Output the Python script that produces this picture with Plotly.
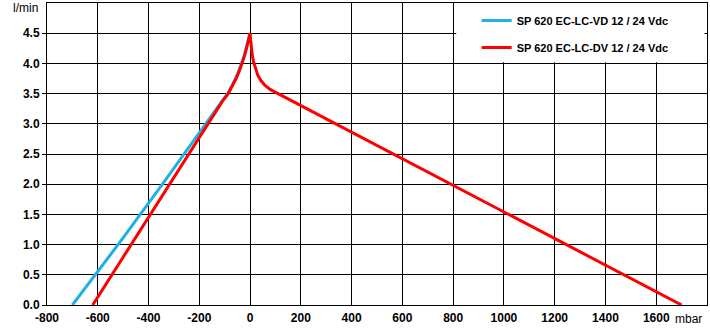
import plotly.graph_objects as go

# Data
vd_name = "SP 620 EC-LC-VD 12 / 24 Vdc"
vd_pressure = [-700, -520, -345, -177, -132, -110, -88, -71, -57, -44, -33, -24, -17, -11, -6, -3, 0]
vd_flow = [0.0, 1.0, 2.0, 3.0, 3.25, 3.38, 3.5, 3.63, 3.75, 3.88, 4.0, 4.12, 4.23, 4.32, 4.4, 4.45, 4.5]

dv_name = "SP 620 EC-LC-DV 12 / 24 Vdc"
dv_pressure = [-620, -468, -316, -166, -129, -108, -86, -69, -55, -42, -31, -22, -15, -9, -4, -2, 0,
               2, 5, 9, 14, 21, 30, 42, 58, 79, 110, 1700]
dv_flow = [0.0, 1.0, 2.0, 3.0, 3.25, 3.38, 3.5, 3.63, 3.75, 3.88, 4.0, 4.12, 4.23, 4.32, 4.4, 4.45, 4.5,
           4.4, 4.27, 4.13, 4.02, 3.91, 3.81, 3.72, 3.64, 3.57, 3.5, 0.0]

x_ticks = [-800, -600, -400, -200, 0, 200, 400, 600, 800, 1000, 1200, 1400, 1600]
y_ticks = [0.0, 0.5, 1.0, 1.5, 2.0, 2.5, 3.0, 3.5, 4.0, 4.5]

FONT = "Liberation Sans, Arial, sans-serif"

fig = go.Figure()
fig.add_trace(go.Scatter(x=vd_pressure, y=vd_flow, mode="lines", name=vd_name,
                         legendgroup="a",
                         line=dict(color="#1FB0E6", width=3)))
fig.add_trace(go.Scatter(x=dv_pressure, y=dv_flow, mode="lines", name=dv_name,
                         legendgroup="b",
                         line=dict(color="#FF0000", width=3)))

fig.update_xaxes(range=[-800, 1800], tickvals=x_ticks,
                 ticktext=[f"<b>{v}</b>" for v in x_ticks],
                 showgrid=True, gridcolor="black", gridwidth=1,
                 showline=True, linecolor="black", linewidth=1, mirror=True,
                 ticks="", zeroline=False, ticklabelstandoff=2,
                 tickfont=dict(family=FONT, size=12, color="black"))
fig.update_yaxes(range=[0, 5], tickvals=y_ticks,
                 ticktext=[f"<b>{v:.1f}</b>" for v in y_ticks],
                 showgrid=True, gridcolor="black", gridwidth=1,
                 showline=True, linecolor="black", linewidth=1, mirror=True,
                 ticks="outside", ticklen=4, tickcolor="black", zeroline=False,
                 tickfont=dict(family=FONT, size=12, color="black"))

# white area behind the legend, hiding the gridlines
fig.add_shape(type="rect", xref="x", yref="y", x0=812, x1=1790, y0=4.02, y1=5.0,
              fillcolor="white", line=dict(width=0), layer="between")

fig.add_annotation(text="mbar", xref="paper", yref="paper", x=0.9727, y=-0.046,
                   showarrow=False, xanchor="center", yanchor="middle",
                   font=dict(family=FONT, size=12, color="black"))
fig.add_annotation(text="l/min", xref="paper", yref="paper", x=-0.0333, y=0.983,
                   showarrow=False, xanchor="center", yanchor="middle",
                   font=dict(family=FONT, size=12, color="black"))

fig.update_layout(
    width=710, height=330,
    margin=dict(l=47, r=3, t=3, b=25),
    paper_bgcolor="white", plot_bgcolor="white",
    font=dict(family=FONT, size=12, color="black"),
    legend=dict(x=0.651, xanchor="left", y=0.99, yanchor="top",
                bgcolor="rgba(0,0,0,0)", borderwidth=0,
                tracegroupgap=8, traceorder="grouped",
                font=dict(family=FONT, size=11, color="black", weight="bold")),
)

fig.write_html("out.html", config={"displayModeBar": False},
               post_script="document.body.style.margin='0';")
